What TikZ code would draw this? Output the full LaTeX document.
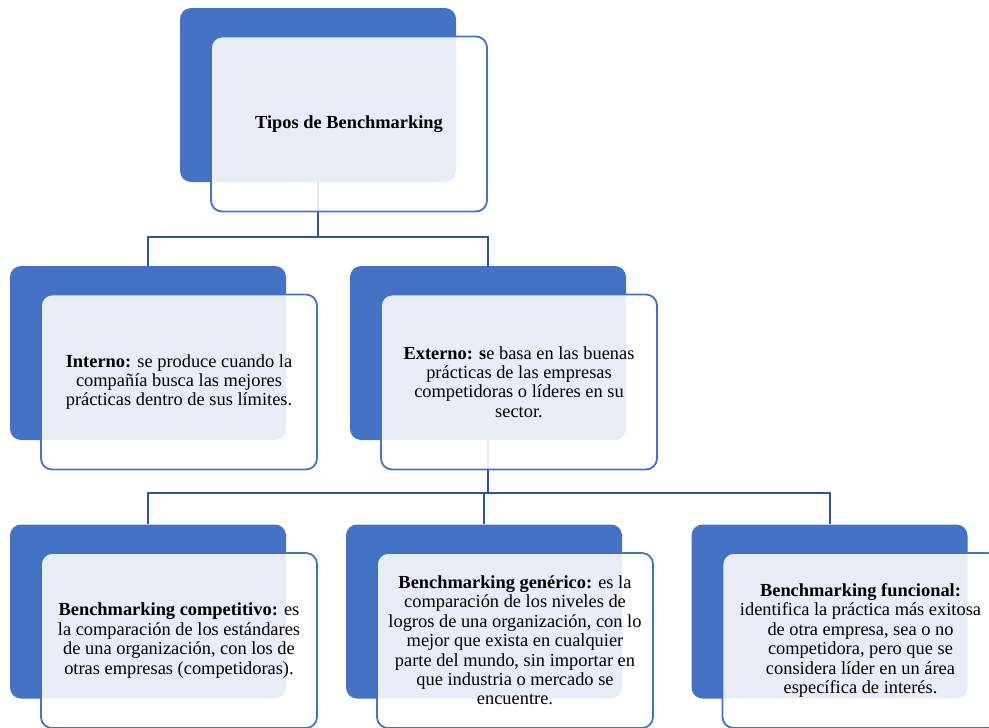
\documentclass[tikz,border=0pt]{standalone}
\usepackage{fontspec}
\setmainfont{Liberation Serif}
\definecolor{boxblue}{RGB}{68,114,196}
\definecolor{linkblue}{RGB}{47,85,151}

\begin{document}
\begin{tikzpicture}[
    x=1pt, y=-1pt,
    every node/.style={font=\fontsize{18.4}{19.4}\selectfont},
    back/.style={rectangle, rounded corners=11pt, fill=boxblue, minimum width=276pt, minimum height=174pt, inner sep=0pt},
    front/.style={rectangle, rounded corners=11pt, draw=boxblue, line width=1.8pt, fill=white, fill opacity=0.88, text opacity=1, minimum width=276pt, minimum height=175pt, inner sep=0pt, align=center},
    link/.style={draw=linkblue, line width=2pt},
]
\useasboundingbox (0,0) rectangle (989,728);

% Back panels
\node[back] (top) at (318,95) {};
\node[back] (interno) at (148,353) {};
\node[back] (externo) at (488,353) {};
\node[back] (compet) at (148,611.5) {};
\node[back] (generico) at (484,611.5) {};
\node[back] (funcional) at (829.5,611.5) {};

% Connectors
\draw[link] (top.south) -- ++(0,55) -| (interno.north);
\draw[link] (top.south) -- ++(0,55) -| (externo.north);
\draw[link] (externo.south) -- ++(0,53) -| (compet.north);
\draw[link] (externo.south) -- ++(0,53) -| (generico.north);
\draw[link] (externo.south) -- ++(0,53) -| (funcional.north);

% Front panels with text
\node[front] (topf) at ([shift={(31,29)}]top.center) {\textbf{Tipos de Benchmarking}};
\node[front] (internof) at ([shift={(31,29)}]interno.center) {\textbf{Interno:} se produce cuando la\\compañía busca las mejores\\prácticas dentro de sus límites.};
\node[front] (externof) at ([shift={(31,29)}]externo.center) {\textbf{Externo: s}e basa en las buenas\\prácticas de las empresas\\competidoras o líderes en su\\sector.};
\node[front] (competf) at ([shift={(31,29)}]compet.center) {\textbf{Benchmarking competitivo:} es\\la comparación de los estándares\\de una organización, con los de\\otras empresas (competidoras).};
\node[front] (genericof) at ([shift={(31,29)}]generico.center) {\textbf{Benchmarking genérico:} es la\\comparación de los niveles de\\logros de una organización, con lo\\mejor que exista en cualquier\\parte del mundo, sin importar en\\que industria o mercado se\\encuentre.};
\node[front] (funcionalf) at ([shift={(31,29)}]funcional.center) {\textbf{Benchmarking funcional:}\\identifica la práctica más exitosa\\de otra empresa, sea o no\\competidora, pero que se\\considera líder en un área\\específica de interés.};

\end{tikzpicture}
\end{document}
